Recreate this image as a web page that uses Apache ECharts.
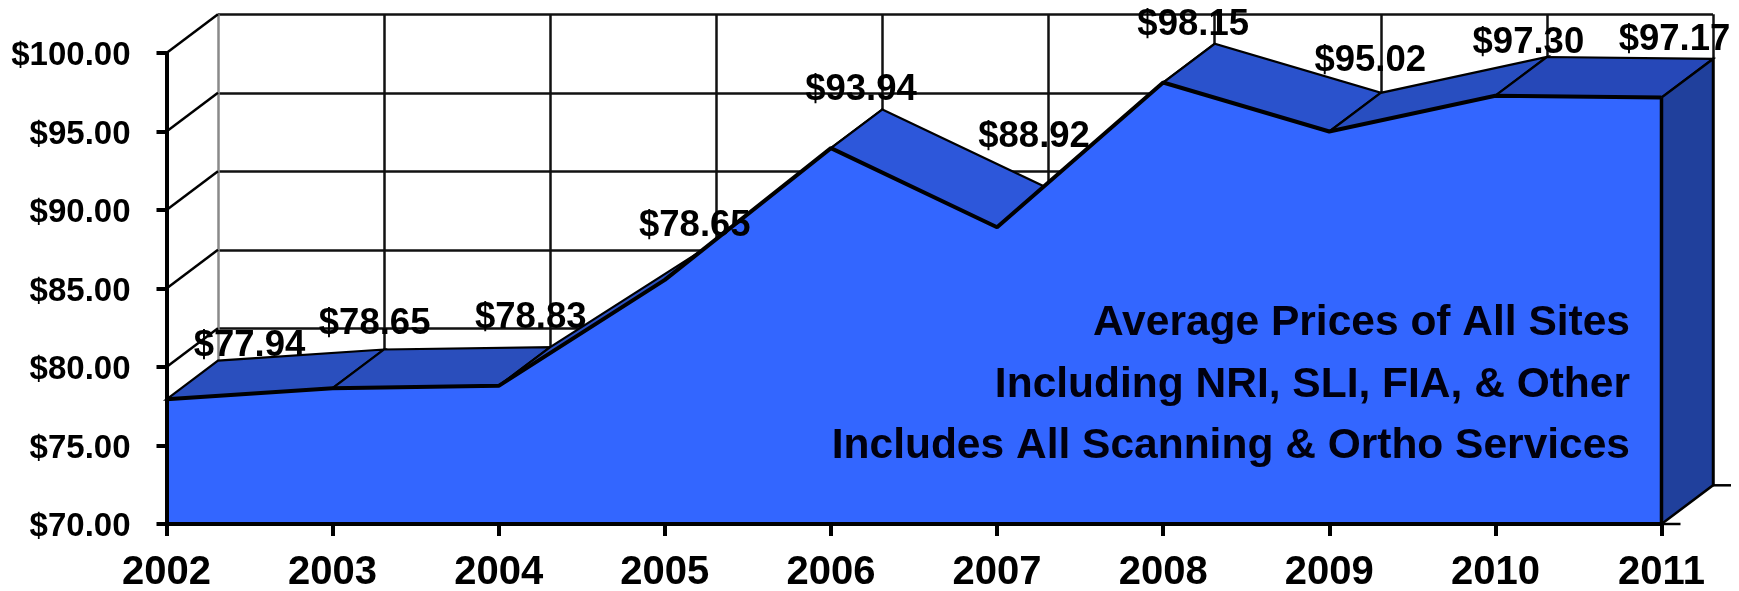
<!DOCTYPE html>
<html>
<head>
<meta charset="utf-8">
<style>html,body{margin:0;padding:0;background:#fff}#c{width:1739px;height:591px}</style>
<script src="https://cdn.jsdelivr.net/npm/echarts@6/dist/echarts.min.js"></script>
</head>
<body>
<div id="c"></div>
<script>
const years = ['2002','2003','2004','2005','2006','2007','2008','2009','2010','2011'];
const prices = [77.94,78.65,78.80,85.55,93.94,88.90,98.12,95.00,97.28,97.16];
const priceLabels = ['$77.94','$78.65','$78.83','$78.65','$93.94','$88.92','$98.15','$95.02','$97.30','$97.17'];
const yTicks = [70,75,80,85,90,95,100];
const notes = ['Average Prices of All Sites','Including NRI, SLI, FIA, & Other','Includes All Scanning & Ortho Services'];

const W = 1739, H = 591;
const F = {left:166.5, top:53, right:1661.5, bottom:524};
const DX = 51.5, DY = 38.7;
const FONT = '"Liberation Sans", Arial, sans-serif';
const roofColors = ['#2A4FBE','#2A4EBC','#2B50C2','#2C54CE','#2D57DA','#2A52CC','#2A52CC','#284EC0','#2648B8'];
const labelShift = [[83,-53],[42,-64],[32,-68],[30,-54],[30,-58],[37,-90],[30,-58],[41,-71],[33,-53],[13,-58]];

const grid = (dx,dy)=>({left:F.left+dx, top:F.top-dy, width:F.right-F.left, height:F.bottom-F.top, outerBoundsMode:'none'});
const line = (x1,y1,x2,y2,w)=>({type:'line',shape:{x1,y1,x2,y2},style:{stroke:'#000',lineWidth:w}});

const option = {
  animation:false,
  backgroundColor:'#fff',
  grid:[grid(0,0),grid(DX,DY)],
  xAxis:[
    {type:'category',gridIndex:0,data:years,boundaryGap:false,z:6,
     axisLine:{show:true,lineStyle:{color:'#000',width:4}},
     axisTick:{show:true,alignWithLabel:true,length:12,lineStyle:{color:'#000',width:4}},
     axisLabel:{show:true,interval:0,color:'#000',fontFamily:FONT,fontWeight:'bold',fontSize:40,margin:29,hideOverlap:false,showMinLabel:true,showMaxLabel:true},
     splitLine:{show:false}},
    {type:'category',gridIndex:1,data:years,boundaryGap:false,
     axisLine:{show:false},axisTick:{show:false},axisLabel:{show:false},
     splitLine:{show:true,interval:0,lineStyle:{color:['#8a8a8a','#111','#111','#111','#111','#111','#111','#111','#111','#111'],width:2.5}}}
  ],
  yAxis:[
    {type:'value',gridIndex:0,min:70,max:100,interval:5,z:6,
     axisLine:{show:true,lineStyle:{color:'#000',width:4}},
     axisTick:{show:true,length:10,lineStyle:{color:'#000',width:4}},
     axisLabel:{color:'#000',fontFamily:FONT,fontWeight:'bold',fontSize:33,margin:36,verticalAlign:'top',lineHeight:6,formatter:v=>'$'+v.toFixed(2)},
     splitLine:{show:false}},
    {type:'value',gridIndex:1,min:70,max:100,interval:5,
     axisLine:{show:false},axisTick:{show:false},axisLabel:{show:false},
     splitLine:{show:true,lineStyle:{color:'#111',width:2.5}}}
  ],
  series:[
    {type:'custom',name:'wall',xAxisIndex:0,yAxisIndex:0,z:1,clip:false,silent:true,
     data:yTicks.map(v=>[0,v]),
     renderItem:(p,api)=>{const c=api.coord([api.value(0),api.value(1)]);return line(c[0],c[1],c[0]+DX,c[1]-DY,2.5);}},
    {type:'custom',name:'roof',xAxisIndex:0,yAxisIndex:0,z:2,clip:false,silent:true,
     data:prices.slice(0,-1).map((v,i)=>[i,v,prices[i+1]]),
     renderItem:(p,api)=>{
       const i=api.value(0),a=api.coord([i,api.value(1)]),b=api.coord([i+1,api.value(2)]);
       return {type:'polygon',shape:{points:[a,b,[b[0]+DX,b[1]-DY],[a[0]+DX,a[1]-DY]]},
               style:{fill:roofColors[i],stroke:'#000',lineWidth:2.2}};
     }},
    {type:'custom',name:'side',xAxisIndex:0,yAxisIndex:0,z:2,clip:false,silent:true,
     data:[[years.length-1,prices[prices.length-1]]],
     renderItem:(p,api)=>{
       const a=api.coord([api.value(0),api.value(1)]),b=api.coord([api.value(0),70]);
       return {type:'group',children:[
         {type:'polygon',shape:{points:[a,b,[b[0]+DX,b[1]-DY],[a[0]+DX,a[1]-DY]]},style:{fill:'#20409C',stroke:'#000',lineWidth:2.5}},
         line(b[0]+DX,b[1]-DY,b[0]+DX+18,b[1]-DY,2.5),
         line(b[0],b[1],b[0]+19,b[1],2.5)
       ]};
     }},
    {type:'line',name:'Average price',xAxisIndex:0,yAxisIndex:0,z:3,data:prices,symbol:'none',
     lineStyle:{color:'#000',width:4},areaStyle:{color:'#3366FF',opacity:1,origin:'start'},silent:true},
    {type:'custom',name:'edge',xAxisIndex:0,yAxisIndex:0,z:4,clip:false,silent:true,
     data:[[years.length-1,prices[prices.length-1]]],
     renderItem:(p,api)=>{
       const a=api.coord([api.value(0),api.value(1)]),b=api.coord([api.value(0),70]);
       return line(a[0],a[1],b[0],b[1],3.5);
     }},
    {type:'custom',name:'labels',xAxisIndex:0,yAxisIndex:0,z:8,clip:false,silent:true,
     data:prices.map((v,i)=>[i,v]),
     renderItem:(p,api)=>{
       const i=api.value(0),c=api.coord([i,api.value(1)]);
       return {type:'text',x:c[0]+labelShift[i][0],y:c[1]+labelShift[i][1],
         style:{text:priceLabels[i],fill:'#000',font:'bold 36.5px '+FONT,textAlign:'center',textVerticalAlign:'middle'}};
     }}
  ],
  graphic:notes.map((t,i)=>({type:'text',z:9,x:1630,y:[323.5,385.5,446.5][i],
    style:{text:t,fill:'#00000F',font:'bold 42.5px '+FONT,textAlign:'right',textVerticalAlign:'middle'}}))
};
echarts.init(document.getElementById('c'),null,{renderer:'canvas',width:W,height:H}).setOption(option);
</script>
</body>
</html>
